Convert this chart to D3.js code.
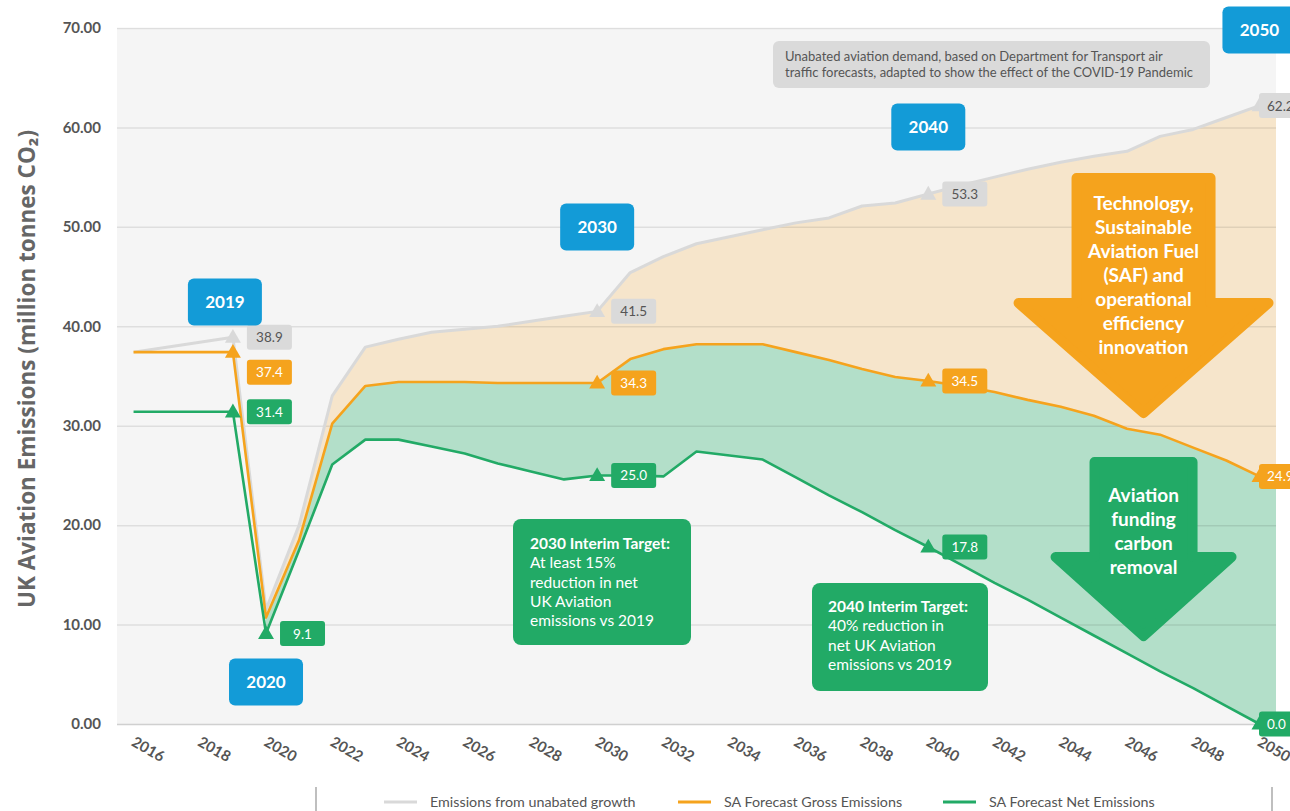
<!DOCTYPE html>
<html>
<head>
<meta charset="utf-8">
<script src="https://cdn.jsdelivr.net/npm/d3@7"></script>
<style>
  html, body { margin: 0; padding: 0; background: #ffffff; }
  svg { display: block; font-family: "Lato", "Open Sans", sans-serif; }
</style>
</head>
<body>
<svg id="chart" width="1290" height="811"></svg>
<script>
// ---------------- DATA ----------------
const years = d3.range(2016, 2051);
const yTicks = [0, 10, 20, 30, 40, 50, 60, 70];
const xTickYears = [2016, 2018, 2020, 2022, 2024, 2026, 2028, 2030, 2032, 2034, 2036, 2038, 2040, 2042, 2044, 2046, 2048, 2050];

const unabated = [37.4, 37.9, 38.4, 38.9, 11.5, 20.0, 33.0, 37.9, 38.7, 39.4, 39.7, 40.0, 40.5, 41.0, 41.5,
                  45.4, 47.0, 48.3, 49.0, 49.7, 50.4, 50.9, 52.1, 52.4, 53.3,
                  54.2, 55.0, 55.8, 56.5, 57.1, 57.6, 59.1, 59.8, 61.0, 62.2];
const gross = [37.4, 37.4, 37.4, 37.4, 10.7, 18.5, 30.2, 34.0, 34.4, 34.4, 34.4, 34.3, 34.3, 34.3, 34.3,
               36.7, 37.7, 38.2, 38.2, 38.2, 37.4, 36.6, 35.7, 34.9, 34.5,
               34.0, 33.4, 32.6, 31.9, 31.0, 29.7, 29.1, 27.8, 26.5, 24.9];
const net = [31.4, 31.4, 31.4, 31.4, 9.1, 17.5, 26.1, 28.6, 28.6, 27.9, 27.2, 26.2, 25.4, 24.6, 25.0,
             25.0, 24.9, 27.4, 27.0, 26.6, 24.8, 23.0, 21.3, 19.5, 17.8,
             16.0, 14.2, 12.5, 10.7, 8.9, 7.1, 5.3, 3.6, 1.8, 0.0];

const seriesNames = ["Emissions from unabated growth", "SA Forecast Gross Emissions", "SA Forecast Net Emissions"];
const seriesColors = ["#d9d9d9", "#f5a31d", "#22aa66"];
const markerYears = [2019, 2030, 2040, 2050];
const extraNetMarkerYears = [2020];
const fillStartYear = 2020;

const yearCallouts = [2019, 2020, 2030, 2040, 2050];
const yearCalloutY = [302, 682, 227, 127, 30];

const noteText = ["Unabated aviation demand, based on Department for Transport air",
                  "traffic forecasts, adapted to show the effect of the COVID-19 Pandemic"];
const target2030 = ["2030 Interim Target:", "At least 15%", "reduction in net", "UK Aviation", "emissions vs 2019"];
const target2040 = ["2040 Interim Target:", "40% reduction in", "net UK Aviation", "emissions vs 2019"];
const orangeArrowText = ["Technology,", "Sustainable", "Aviation Fuel", "(SAF) and", "operational", "efficiency", "innovation"];
const greenArrowText = ["Aviation", "funding", "carbon", "removal"];
const yTitle = "UK Aviation Emissions (million tonnes CO\u2082)";

// ---------------- LAYOUT ----------------
const svg = d3.select("#chart");
const plotL = 117, plotR = 1276, plotT = 28, plotB = 724;

const x = d3.scaleBand().domain(years).range([plotL, plotR]).paddingInner(0).paddingOuter(0);
const xc = yr => x(yr) + x.bandwidth() / 2;
const y = d3.scaleLinear().domain([0, 70]).range([plotB, plotT]);

const BLUE = "#139bd7", GREEN = "#22aa66", ORANGE = "#f5a31d", TXT = "#555";

// background
svg.append("rect").attr("x", plotL).attr("y", plotT).attr("width", plotR - plotL).attr("height", plotB - plotT)
  .attr("fill", "#f5f5f5");

// fills
const fillYears = years.filter(yr => yr >= fillStartYear);
const idx = yr => years.indexOf(yr);
const fillPts = fillYears.map(yr => ({ x: xc(yr), u: unabated[idx(yr)], g: gross[idx(yr)], n: net[idx(yr)] }));
const lastP = fillPts[fillPts.length - 1];
fillPts.push({ x: plotR, u: lastP.u, g: lastP.g, n: lastP.n });

svg.append("path").datum(fillPts)
  .attr("d", d3.area().x(d => d.x).y0(d => y(d.g)).y1(d => y(d.u)))
  .attr("fill", "#f6e5cb");
svg.append("path").datum(fillPts)
  .attr("d", d3.area().x(d => d.x).y0(d => y(d.n)).y1(d => y(d.g)))
  .attr("fill", "#b3dfc9");

// gridlines
const yAxis = d3.axisLeft(y).tickValues(yTicks).tickSize(-(plotR - plotL)).tickFormat(d3.format(".2f"));
const gy = svg.append("g").attr("transform", `translate(${plotL},0)`).call(yAxis);
gy.select(".domain").remove();
gy.selectAll(".tick line").attr("stroke", "rgba(0,0,0,0.09)").attr("stroke-width", 1.5);
gy.selectAll(".tick text").attr("x", -16).attr("font-size", 15).attr("font-weight", 700)
  .attr("fill", TXT).attr("font-family", "Lato, sans-serif");
gy.selectAll(".tick").filter(d => d === 0).select("line").attr("stroke", "#d0d0d0");

// x axis labels
const xAxis = d3.axisBottom(x).tickValues(xTickYears).tickSize(0);
const gx = svg.append("g").attr("transform", `translate(0,${plotB})`).call(xAxis);
gx.select(".domain").remove();
gx.selectAll(".tick text")
  .attr("font-size", 15).attr("font-weight", 700).attr("fill", TXT).attr("font-family", "Lato, sans-serif")
  .attr("text-anchor", "start").attr("dy", 0).attr("y", 0)
  .attr("transform", "translate(-3,21) rotate(30)");

// y title
svg.append("text").attr("transform", `translate(35,${369}) rotate(-90)`)
  .attr("text-anchor", "middle").attr("font-size", 22.5).attr("font-weight", 700).attr("fill", "#666")
  .attr("font-family", "'Open Sans', sans-serif")
  .text(yTitle);

// lines
const allSeries = [unabated, gross, net];
const line = d3.line().x((d, i) => xc(years[i])).y(d => y(d));
const widths = [3, 2.6, 2.6];
allSeries.forEach((s, k) => {
  svg.append("path").datum(s).attr("d", line).attr("fill", "none")
    .attr("stroke", seriesColors[k]).attr("stroke-width", widths[k]).attr("stroke-linejoin", "round");
});

// markers
const tri = d3.symbol().type(d3.symbolTriangle).size(110);
function marker(yr, v, color) {
  svg.append("path").attr("d", tri).attr("transform", `translate(${xc(yr)},${y(v) + 1})`).attr("fill", color);
}
function valueLabel(yr, v, color, textColor, dy) {
  const raw = xc(yr) + 14;
  const clipped = raw > 1260;
  const bx = clipped ? 1259 : raw, by = y(v) + dy;
  svg.append("rect").attr("x", bx).attr("y", by - 12.5).attr("width", 45).attr("height", 25).attr("rx", 3)
    .attr("fill", color);
  svg.append("text").attr("x", clipped ? 1267 : bx + 22.5).attr("y", by + 5)
    .attr("text-anchor", clipped ? "start" : "middle")
    .attr("font-size", 13.5).attr("fill", textColor).text(d3.format(".1f")(v));
}
const labelTextColors = ["#555", "#fff", "#fff"];
const labelFill = ["#dadada", ORANGE, GREEN];
markerYears.forEach(yr => {
  allSeries.forEach((s, k) => marker(yr, s[idx(yr)], seriesColors[k]));
});
extraNetMarkerYears.forEach(yr => marker(yr, net[idx(yr)], GREEN));
markerYears.forEach(yr => {
  allSeries.forEach((s, k) => {
    const dy = (yr === 2019 && k === 1) ? 20 : 0;
    valueLabel(yr, s[idx(yr)], labelFill[k], labelTextColors[k], dy);
  });
});
extraNetMarkerYears.forEach(yr => valueLabel(yr, net[idx(yr)], GREEN, "#fff", 0));

// note box
svg.append("rect").attr("x", 773).attr("y", 41).attr("width", 437).attr("height", 47).attr("rx", 6).attr("fill", "#dadada");
noteText.forEach((t, i) => svg.append("text").attr("x", 785).attr("y", 61 + i * 16).attr("font-size", 13)
  .attr("fill", TXT).text(t));

// target boxes
function targetBox(lines, bx, by, bw, bh, tx, ty0) {
  svg.append("rect").attr("x", bx).attr("y", by).attr("width", bw).attr("height", bh).attr("rx", 8).attr("fill", GREEN);
  lines.forEach((t, i) => svg.append("text").attr("x", tx).attr("y", ty0 + i * 19.3).attr("font-size", 15.5)
    .attr("font-weight", i === 0 ? 700 : 400).attr("fill", "#fff").text(t));
}
targetBox(target2030, 513, 519, 178, 126, 530, 549);
targetBox(target2040, 812, 583, 176, 108, 828, 612);

// arrows
function arrow(cx, top, shaftHalf, shoulderY, wingHalf, tipY, color) {
  const inset = 5;
  const p = d3.path();
  p.moveTo(cx - shaftHalf + inset, top + inset);
  p.lineTo(cx + shaftHalf - inset, top + inset);
  p.lineTo(cx + shaftHalf - inset, shoulderY + inset);
  p.lineTo(cx + wingHalf - inset - 2, shoulderY + inset);
  p.lineTo(cx, tipY - inset - 2);
  p.lineTo(cx - wingHalf + inset + 2, shoulderY + inset);
  p.lineTo(cx - shaftHalf + inset, shoulderY + inset);
  p.closePath();
  svg.append("path").attr("d", p.toString()).attr("fill", color).attr("stroke", color)
    .attr("stroke-width", 10).attr("stroke-linejoin", "round");
}
const arrowX = (xc(2046) + xc(2047)) / 2;
arrow(arrowX, 173, 72, 298, 132, 420, ORANGE);
orangeArrowText.forEach((t, i) => svg.append("text").attr("x", arrowX).attr("y", 210 + i * 24)
  .attr("text-anchor", "middle").attr("font-size", 19).attr("font-weight", 700).attr("fill", "#fff").text(t));
arrow(arrowX, 457, 54, 552, 95, 643, GREEN);
greenArrowText.forEach((t, i) => svg.append("text").attr("x", arrowX).attr("y", 502 + i * 24)
  .attr("text-anchor", "middle").attr("font-size", 19).attr("font-weight", 700).attr("fill", "#fff").text(t));

// year callouts
const cdx = { 2019: -8 };
yearCallouts.forEach((yr, i) => {
  const cx = xc(yr) + (cdx[yr] || 0), cy = yearCalloutY[i];
  svg.append("rect").attr("x", cx - 37).attr("y", cy - 23.5).attr("width", 74).attr("height", 47).attr("rx", 6)
    .attr("fill", BLUE);
  svg.append("text").attr("x", cx).attr("y", cy + 6).attr("text-anchor", "middle").attr("font-size", 17)
    .attr("font-weight", 700).attr("fill", "#fff").text(yr);
});

// legend
svg.append("line").attr("x1", 316).attr("x2", 316).attr("y1", 787).attr("y2", 811).attr("stroke", "#aaa").attr("stroke-width", 1.5);
svg.append("line").attr("x1", 1272).attr("x2", 1272).attr("y1", 787).attr("y2", 811).attr("stroke", "#aaa").attr("stroke-width", 1.5);
const legendX = [384, 678, 943];
seriesNames.forEach((n, k) => {
  svg.append("line").attr("x1", legendX[k]).attr("x2", legendX[k] + 33).attr("y1", 802).attr("y2", 802)
    .attr("stroke", seriesColors[k]).attr("stroke-width", 3);
  svg.append("text").attr("x", legendX[k] + 46).attr("y", 807).attr("font-size", 14.3).attr("fill", TXT).text(n);
});
</script>
</body>
</html>
